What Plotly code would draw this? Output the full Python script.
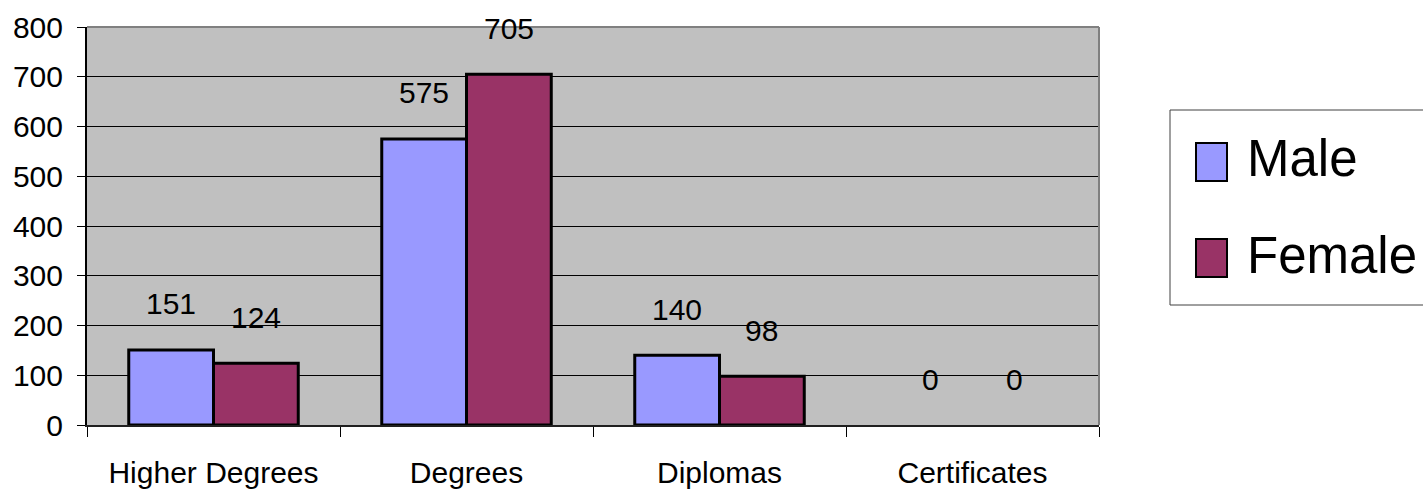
import plotly.graph_objects as go

categories = ["Higher Degrees", "Degrees", "Diplomas", "Certificates"]
male = [151, 575, 140, 0]
female = [124, 705, 98, 0]
series_names = ["Male", "Female"]
y_ticks = [0, 100, 200, 300, 400, 500, 600, 700, 800]

W, H = 1423, 496
L, R, T, B = 87, 1099, 27, 425
FONT = "Liberation Sans, Arial, sans-serif"
FS = 29
MALE_C = "#9999FF"
FEMALE_C = "#993366"

def px(x):
    return (x - L) / (R - L)

def py(y):
    return (B - y) / (B - T)

fig = go.Figure()
fig.add_trace(go.Bar(name=series_names[0], x=categories, y=male,
                     marker=dict(color=MALE_C,
                                 line=dict(color="black", width=[3 if v > 0 else 0 for v in male])),
                     showlegend=False))
fig.add_trace(go.Bar(name=series_names[1], x=categories, y=female,
                     marker=dict(color=FEMALE_C,
                                 line=dict(color="black", width=[3 if v > 0 else 0 for v in female])),
                     showlegend=False))

cat_w = (R - L) / len(categories)
bargap = 0.33
bar_w = cat_w * (1 - bargap) / 2
annotations = []
for vals, sh in ((male, -bar_w / 2), (female, bar_w / 2)):
    for c, v in zip(categories, vals):
        annotations.append(dict(x=c, y=v, xref="x", yref="y", text=str(v),
                                showarrow=False, xshift=sh, yshift=46,
                                yanchor="middle",
                                font=dict(family=FONT, size=FS + 1, color="black")))

# manual legend
shapes = [
    dict(type="rect", xref="paper", yref="paper", x0=px(1170), x1=px(1440),
         y0=py(305), y1=py(110), line=dict(color="#404040", width=1),
         fillcolor="white", layer="above"),
    dict(type="rect", xref="paper", yref="paper", x0=px(1196), x1=px(1227),
         y0=py(181), y1=py(143), line=dict(color="black", width=2),
         fillcolor=MALE_C, layer="above"),
    dict(type="rect", xref="paper", yref="paper", x0=px(1196), x1=px(1227),
         y0=py(277), y1=py(239), line=dict(color="black", width=2),
         fillcolor=FEMALE_C, layer="above"),
    # plot-area border top/right (gray)
    dict(type="line", xref="paper", yref="paper", x0=0, x1=1, y0=1, y1=1,
         line=dict(color="#808080", width=2), layer="above"),
    dict(type="line", xref="paper", yref="paper", x0=1, x1=1, y0=0, y1=1,
         line=dict(color="#808080", width=2), layer="above"),
]
for name, yc in ((series_names[0], 158), (series_names[1], 255)):
    annotations.append(dict(x=px(1245), y=py(yc), xref="paper", yref="paper",
                            text=name, showarrow=False, xanchor="left",
                            yanchor="middle",
                            font=dict(family=FONT, size=51, color="black")))

fig.update_layout(
    width=W, height=H,
    margin=dict(l=L, r=W - R, t=T, b=H - B, pad=0, autoexpand=False),
    paper_bgcolor="white",
    plot_bgcolor="#C0C0C0",
    barmode="group",
    bargap=bargap,
    bargroupgap=0,
    showlegend=False,
    font=dict(family=FONT, size=FS, color="black"),
    annotations=annotations,
    shapes=shapes,
)
fig.update_xaxes(
    type="category", showgrid=False, showline=True, linecolor="#202020", linewidth=2,
    ticks="outside", ticklen=10, tickcolor="black", tickwidth=1, automargin=False,
    tickson="boundaries", tickfont=dict(family=FONT, size=FS + 1, color="black"),
    ticklabelstandoff=20,
)
fig.update_yaxes(
    range=[0, 800], tickvals=y_ticks, showgrid=True, gridcolor="black", gridwidth=1,
    showline=True, linecolor="black", linewidth=2, zeroline=False, automargin=False,
    ticks="outside", ticklen=8, tickcolor="black", tickwidth=1,
    tickfont=dict(family=FONT, size=FS + 1, color="black"),
    ticklabelstandoff=8,
)

fig.write_html("out.html")
